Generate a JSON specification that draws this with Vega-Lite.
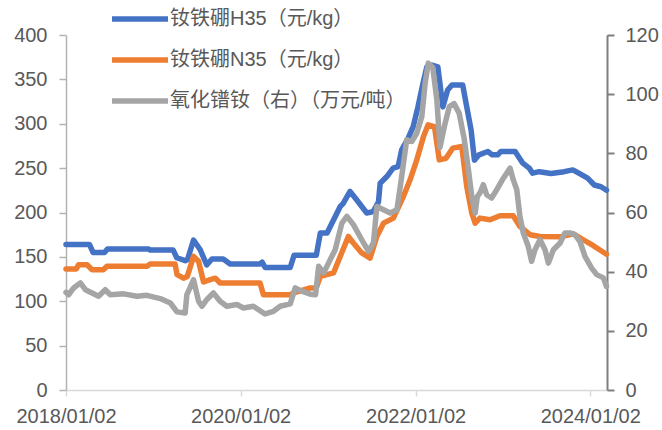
{
  "$schema": "https://vega.github.io/schema/vega-lite/v6.json",
  "width": 541,
  "height": 355,
  "autosize": {"type": "none"},
  "padding": {"left": 66, "top": 35, "right": 55, "bottom": 40},
  "background": "white",
  "config": {
    "font": "Liberation Sans, Noto Sans CJK SC",
    "view": {"stroke": null},
    "axis": {"grid": false, "labelFont": "Liberation Sans", "labelFontSize": 20, "labelColor": "#595959", "title": null}
  },
  "datasets": {
    "h35": [
      {"d": "2018-01-02", "v": 164}, {"d": "2018-04-10", "v": 164}, {"d": "2018-04-25", "v": 155}, {"d": "2018-06-12", "v": 155},
      {"d": "2018-06-25", "v": 159}, {"d": "2018-12-12", "v": 159}, {"d": "2018-12-20", "v": 157.7}, {"d": "2019-03-26", "v": 157.7},
      {"d": "2019-04-10", "v": 149}, {"d": "2019-05-15", "v": 145.7}, {"d": "2019-05-25", "v": 147}, {"d": "2019-06-19", "v": 169},
      {"d": "2019-07-17", "v": 158}, {"d": "2019-08-13", "v": 141}, {"d": "2019-09-04", "v": 147.6}, {"d": "2019-10-21", "v": 147.6},
      {"d": "2019-11-19", "v": 142}, {"d": "2020-03-23", "v": 142}, {"d": "2020-04-01", "v": 144}, {"d": "2020-04-13", "v": 138},
      {"d": "2020-07-27", "v": 138}, {"d": "2020-08-12", "v": 151.7}, {"d": "2020-11-13", "v": 151.7}, {"d": "2020-11-30", "v": 177},
      {"d": "2020-12-28", "v": 177}, {"d": "2021-01-10", "v": 184}, {"d": "2021-02-21", "v": 206.8}, {"d": "2021-03-05", "v": 210},
      {"d": "2021-04-03", "v": 223.7}, {"d": "2021-04-24", "v": 216.6}, {"d": "2021-05-22", "v": 206.8}, {"d": "2021-06-12", "v": 199.4},
      {"d": "2021-07-09", "v": 201}, {"d": "2021-07-31", "v": 212}, {"d": "2021-08-07", "v": 233}, {"d": "2021-09-04", "v": 240.5},
      {"d": "2021-09-30", "v": 250}, {"d": "2021-10-21", "v": 251.8}, {"d": "2021-11-05", "v": 270.6}, {"d": "2021-12-02", "v": 283.7},
      {"d": "2021-12-23", "v": 296.8}, {"d": "2022-01-12", "v": 319}, {"d": "2022-02-02", "v": 345.6}, {"d": "2022-02-18", "v": 364},
      {"d": "2022-03-12", "v": 366}, {"d": "2022-04-05", "v": 364}, {"d": "2022-04-26", "v": 319}, {"d": "2022-05-16", "v": 338},
      {"d": "2022-06-03", "v": 343.7}, {"d": "2022-07-18", "v": 343.7}, {"d": "2022-08-01", "v": 323}, {"d": "2022-08-22", "v": 293},
      {"d": "2022-09-05", "v": 259}, {"d": "2022-09-24", "v": 265}, {"d": "2022-10-31", "v": 268.7}, {"d": "2022-11-18", "v": 265},
      {"d": "2022-12-11", "v": 265}, {"d": "2022-12-24", "v": 268.7}, {"d": "2023-02-22", "v": 268.7}, {"d": "2023-03-26", "v": 255.6},
      {"d": "2023-04-22", "v": 250}, {"d": "2023-05-06", "v": 244.3}, {"d": "2023-06-03", "v": 246}, {"d": "2023-07-22", "v": 244},
      {"d": "2023-09-15", "v": 246}, {"d": "2023-10-21", "v": 248}, {"d": "2023-11-17", "v": 244}, {"d": "2023-12-22", "v": 238.7},
      {"d": "2024-01-19", "v": 231}, {"d": "2024-02-16", "v": 229}, {"d": "2024-03-10", "v": 225}
    ],
    "n35": [
      {"d": "2018-01-02", "v": 136.4}, {"d": "2018-02-14", "v": 136.4}, {"d": "2018-02-24", "v": 141.2}, {"d": "2018-03-31", "v": 141},
      {"d": "2018-04-21", "v": 135.6}, {"d": "2018-06-07", "v": 135.6}, {"d": "2018-06-22", "v": 139.3}, {"d": "2018-12-06", "v": 139.3},
      {"d": "2018-12-20", "v": 142}, {"d": "2019-04-03", "v": 142}, {"d": "2019-04-11", "v": 130}, {"d": "2019-05-08", "v": 126},
      {"d": "2019-05-24", "v": 128}, {"d": "2019-06-19", "v": 150.5}, {"d": "2019-07-10", "v": 145}, {"d": "2019-07-31", "v": 121.7},
      {"d": "2019-08-28", "v": 124.3}, {"d": "2019-09-18", "v": 126}, {"d": "2019-10-08", "v": 120.6}, {"d": "2020-03-23", "v": 120.6},
      {"d": "2020-04-06", "v": 107.4}, {"d": "2020-07-27", "v": 107.4}, {"d": "2020-08-10", "v": 109.4}, {"d": "2020-10-19", "v": 115},
      {"d": "2020-11-13", "v": 115}, {"d": "2020-11-30", "v": 128}, {"d": "2021-01-24", "v": 131.9}, {"d": "2021-02-21", "v": 150.5},
      {"d": "2021-03-27", "v": 173}, {"d": "2021-04-17", "v": 165.6}, {"d": "2021-05-22", "v": 154.4}, {"d": "2021-06-26", "v": 148.7},
      {"d": "2021-07-24", "v": 173}, {"d": "2021-08-21", "v": 188}, {"d": "2021-10-01", "v": 193.7}, {"d": "2021-11-12", "v": 218},
      {"d": "2021-12-10", "v": 236.8}, {"d": "2022-01-07", "v": 259.3}, {"d": "2022-02-04", "v": 285.6}, {"d": "2022-02-23", "v": 298.7},
      {"d": "2022-03-22", "v": 296.8}, {"d": "2022-04-11", "v": 259.3}, {"d": "2022-05-09", "v": 261}, {"d": "2022-06-06", "v": 272.5},
      {"d": "2022-07-14", "v": 274.3}, {"d": "2022-08-04", "v": 229}, {"d": "2022-08-25", "v": 199.4}, {"d": "2022-09-08", "v": 188},
      {"d": "2022-09-28", "v": 193.7}, {"d": "2022-11-09", "v": 191.8}, {"d": "2022-12-21", "v": 196.3}, {"d": "2023-02-14", "v": 196.3},
      {"d": "2023-03-14", "v": 184.3}, {"d": "2023-04-25", "v": 175}, {"d": "2023-06-06", "v": 173}, {"d": "2023-08-29", "v": 172.6},
      {"d": "2023-10-23", "v": 176}, {"d": "2023-12-04", "v": 169.3}, {"d": "2024-01-15", "v": 162.6}, {"d": "2024-03-10", "v": 153}
    ],
    "prnd": [
      {"d": "2018-01-02", "v": 33}, {"d": "2018-01-13", "v": 32.2}, {"d": "2018-02-03", "v": 34.5}, {"d": "2018-03-03", "v": 36.2},
      {"d": "2018-03-24", "v": 33.9}, {"d": "2018-04-21", "v": 32.8}, {"d": "2018-05-18", "v": 31.7}, {"d": "2018-06-15", "v": 33.9},
      {"d": "2018-07-06", "v": 32.2}, {"d": "2018-08-31", "v": 32.5}, {"d": "2018-10-26", "v": 31.7}, {"d": "2018-12-06", "v": 32},
      {"d": "2019-01-31", "v": 30.9}, {"d": "2019-03-14", "v": 29.4}, {"d": "2019-04-11", "v": 26.4}, {"d": "2019-05-15", "v": 26},
      {"d": "2019-05-22", "v": 32.2}, {"d": "2019-06-19", "v": 37.3}, {"d": "2019-07-10", "v": 30}, {"d": "2019-07-24", "v": 28.3},
      {"d": "2019-08-14", "v": 30.6}, {"d": "2019-09-10", "v": 32.8}, {"d": "2019-10-08", "v": 30}, {"d": "2019-11-05", "v": 28.3},
      {"d": "2019-12-17", "v": 28.9}, {"d": "2020-01-14", "v": 27.7}, {"d": "2020-02-24", "v": 28.3}, {"d": "2020-04-13", "v": 25.7},
      {"d": "2020-05-18", "v": 26.6}, {"d": "2020-06-15", "v": 28.3}, {"d": "2020-07-27", "v": 29.1}, {"d": "2020-08-17", "v": 34.5},
      {"d": "2020-09-14", "v": 33.4}, {"d": "2020-10-19", "v": 32.4}, {"d": "2020-11-10", "v": 32.2}, {"d": "2020-11-23", "v": 41.8},
      {"d": "2020-12-14", "v": 39.6}, {"d": "2021-01-03", "v": 42.9}, {"d": "2021-01-31", "v": 47.4}, {"d": "2021-02-28", "v": 56.4},
      {"d": "2021-03-21", "v": 58.7}, {"d": "2021-04-17", "v": 55.9}, {"d": "2021-05-22", "v": 50.8}, {"d": "2021-06-19", "v": 46.9},
      {"d": "2021-07-10", "v": 49.7}, {"d": "2021-07-24", "v": 62}, {"d": "2021-08-21", "v": 60.9}, {"d": "2021-09-18", "v": 59.8},
      {"d": "2021-10-16", "v": 60.9}, {"d": "2021-11-05", "v": 72.2}, {"d": "2021-11-26", "v": 84.6}, {"d": "2021-12-17", "v": 84},
      {"d": "2022-01-07", "v": 86.8}, {"d": "2022-01-28", "v": 92.4}, {"d": "2022-02-11", "v": 103.7}, {"d": "2022-02-24", "v": 110.5},
      {"d": "2022-03-15", "v": 109}, {"d": "2022-04-01", "v": 98}, {"d": "2022-04-14", "v": 82}, {"d": "2022-05-05", "v": 90},
      {"d": "2022-05-23", "v": 95.8}, {"d": "2022-06-12", "v": 96.8}, {"d": "2022-07-03", "v": 93.6}, {"d": "2022-07-24", "v": 85},
      {"d": "2022-08-11", "v": 74.4}, {"d": "2022-08-25", "v": 65.4}, {"d": "2022-09-08", "v": 59.8}, {"d": "2022-09-17", "v": 65.4},
      {"d": "2022-09-28", "v": 66.6}, {"d": "2022-10-12", "v": 69.4}, {"d": "2022-10-26", "v": 66}, {"d": "2022-11-16", "v": 64.9},
      {"d": "2022-12-07", "v": 67.7}, {"d": "2023-01-04", "v": 71.6}, {"d": "2023-02-01", "v": 75}, {"d": "2023-02-14", "v": 71.1},
      {"d": "2023-03-01", "v": 67.7}, {"d": "2023-03-14", "v": 58.7}, {"d": "2023-03-28", "v": 53.1}, {"d": "2023-04-18", "v": 48.5},
      {"d": "2023-05-02", "v": 43.5}, {"d": "2023-05-16", "v": 47.4}, {"d": "2023-06-06", "v": 50.8}, {"d": "2023-06-27", "v": 47.4},
      {"d": "2023-07-11", "v": 42.9}, {"d": "2023-08-01", "v": 47.4}, {"d": "2023-08-29", "v": 49.7}, {"d": "2023-09-18", "v": 53.1},
      {"d": "2023-10-09", "v": 53.1}, {"d": "2023-10-30", "v": 52.5}, {"d": "2023-11-20", "v": 50.2}, {"d": "2023-12-11", "v": 45.2},
      {"d": "2024-01-08", "v": 41.2}, {"d": "2024-01-29", "v": 39}, {"d": "2024-02-26", "v": 37.9}, {"d": "2024-03-10", "v": 35}
    ]
  },
  "encoding": {
    "x": {
      "field": "d",
      "type": "temporal",
      "scale": {"type": "utc", "domain": [{"year": 2018, "month": 1, "date": 2, "utc": true}, {"year": 2024, "month": 3, "date": 12, "utc": true}]},
      "axis": {
        "values": [
          {"year": 2018, "month": 1, "date": 2, "utc": true},
          {"year": 2020, "month": 1, "date": 2, "utc": true},
          {"year": 2022, "month": 1, "date": 2, "utc": true},
          {"year": 2024, "month": 1, "date": 2, "utc": true}
        ],
        "labelExpr": "utcFormat(datum.value, '%Y/%m/%d')",
        "labelFlush": false,
        "labelOverlap": false,
        "domainColor": "#D9D9D9",
        "domainWidth": 1.5,
        "tickColor": "#D9D9D9",
        "tickWidth": 1.5,
        "tickSize": 6,
        "labelPadding": 10
      }
    },
    "color": {
      "field": "s",
      "type": "nominal",
      "scale": {
        "domain": ["钕铁硼H35（元/kg）", "钕铁硼N35（元/kg）", "氧化镨钕（右）（万元/吨）"],
        "range": ["#4472C4", "#ED7D31", "#A5A5A5"]
      },
      "legend": {
        "orient": "none",
        "legendX": 43,
        "legendY": -33,
        "direction": "vertical",
        "title": null,
        "padding": 0,
        "symbolType": "M-1,0H3",
        "symbolSize": 784,
        "symbolStrokeWidth": 5.5,
        "symbolFillColor": "transparent",
        "rowPadding": 13,
        "labelOffset": 27,
        "labelFont": "Liberation Sans, Noto Sans CJK SC",
        "labelFontSize": 20,
        "labelColor": "#595959",
        "labelLimit": 600
      }
    }
  },
  "layer": [
    {
      "data": {"name": "h35"},
      "transform": [{"calculate": "'钕铁硼H35（元/kg）'", "as": "s"}],
      "mark": {"type": "line", "strokeWidth": 5.5, "strokeJoin": "round", "strokeCap": "round"},
      "encoding": {
        "y": {
          "field": "v",
          "type": "quantitative",
          "scale": {"domain": [0, 400]},
          "axis": {
            "values": [0, 50, 100, 150, 200, 250, 300, 350, 400],
            "domainColor": "#B3B3B3",
            "domainWidth": 1.5,
            "tickColor": "#B3B3B3",
            "tickWidth": 1.5,
            "tickSize": 7,
            "labelPadding": 12
          }
        }
      }
    },
    {
      "data": {"name": "n35"},
      "transform": [{"calculate": "'钕铁硼N35（元/kg）'", "as": "s"}],
      "mark": {"type": "line", "strokeWidth": 5.5, "strokeJoin": "round", "strokeCap": "round"},
      "encoding": {
        "y": {"field": "v", "type": "quantitative", "scale": {"domain": [0, 400]}, "axis": null}
      }
    },
    {
      "data": {"name": "prnd"},
      "transform": [{"calculate": "'氧化镨钕（右）（万元/吨）'", "as": "s"}],
      "mark": {"type": "line", "strokeWidth": 5.5, "strokeJoin": "round", "strokeCap": "round"},
      "encoding": {
        "y": {
          "field": "v",
          "type": "quantitative",
          "scale": {"domain": [0, 120]},
          "axis": {
            "orient": "right",
            "values": [0, 20, 40, 60, 80, 100, 120],
            "domainColor": "#7F7F7F",
            "domainWidth": 2,
            "tickColor": "#7F7F7F",
            "tickWidth": 2,
            "tickSize": 7,
            "labelPadding": 11
          }
        }
      }
    }
  ],
  "resolve": {"scale": {"y": "independent"}}
}
